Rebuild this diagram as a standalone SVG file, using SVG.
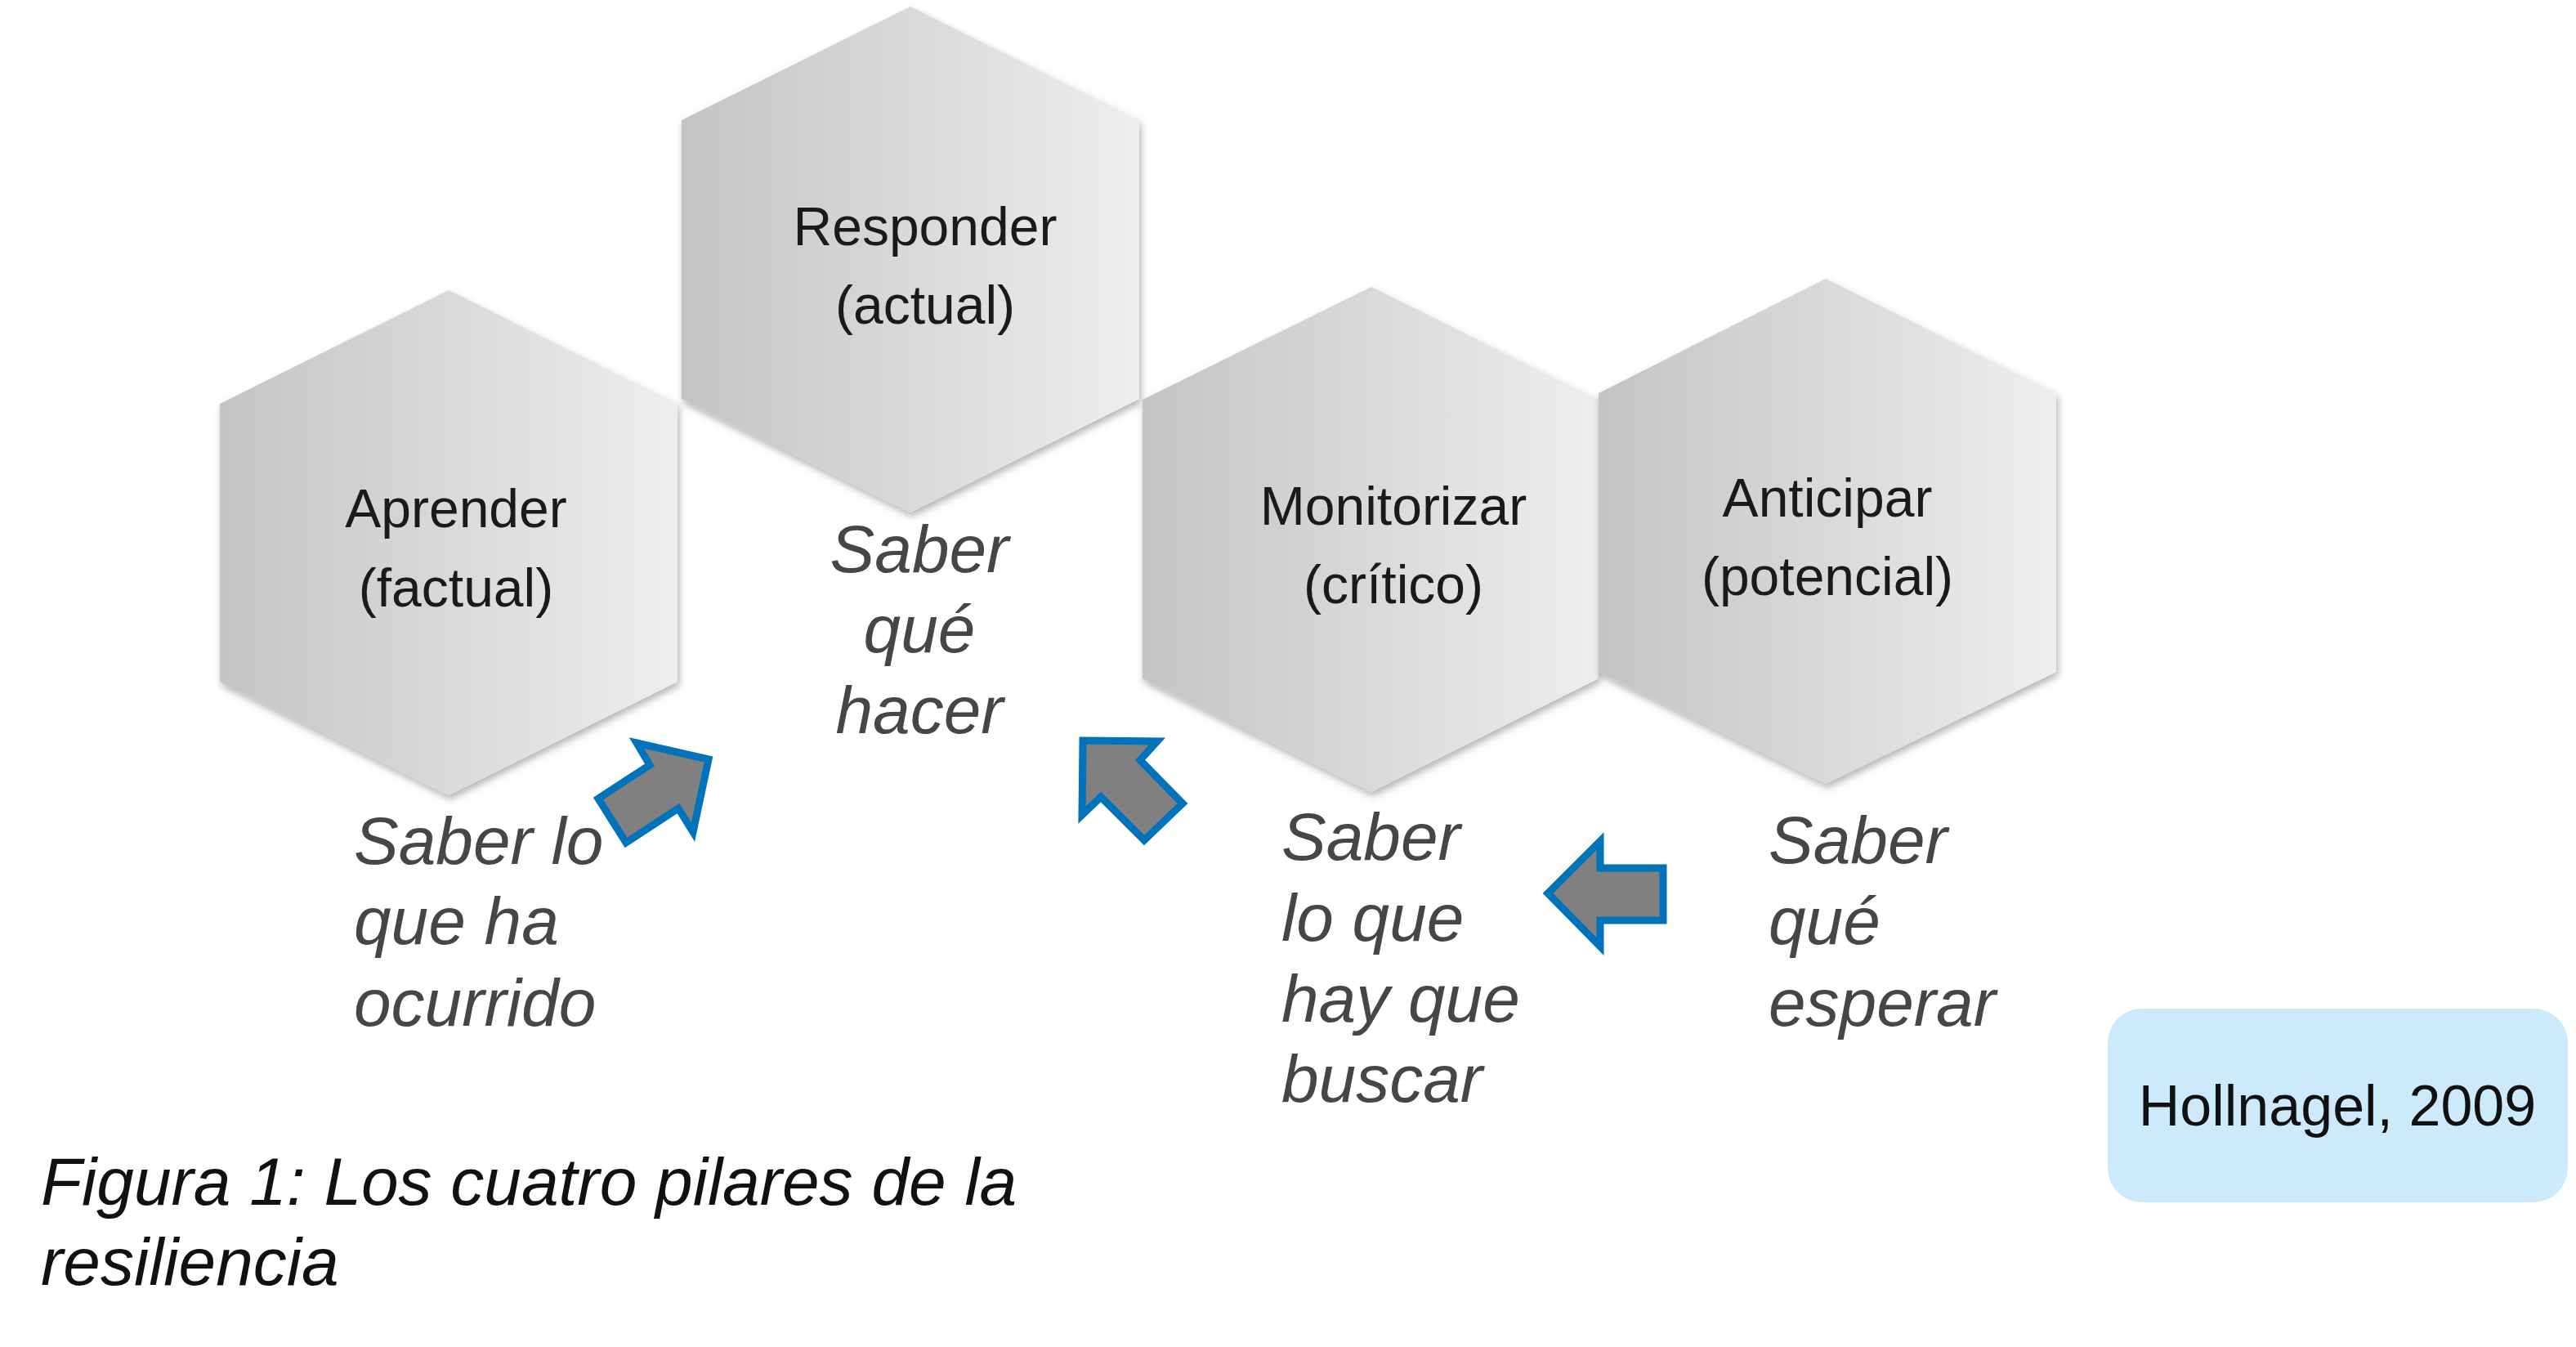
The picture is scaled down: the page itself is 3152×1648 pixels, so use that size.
<svg xmlns="http://www.w3.org/2000/svg" width="3152" height="1648" viewBox="0 0 3152 1648">
  <defs>
    <linearGradient id="hexGrad" x1="0" y1="0" x2="1" y2="0">
      <stop offset="0" stop-color="#c4c4c4"/>
      <stop offset="1" stop-color="#eeeeee"/>
    </linearGradient>
    <filter id="hexShadow" x="-10%" y="-10%" width="120%" height="120%">
      <feDropShadow dx="2" dy="5" stdDeviation="5" flood-color="#000000" flood-opacity="0.3"/>
    </filter>
  </defs>
  <style>
    .hex { fill: url(#hexGrad); filter: url(#hexShadow); }
    .node-text { font-family: "Liberation Sans", Arial, sans-serif; font-size: 66px; fill: #1a1a1a; text-anchor: middle; }
    .label { font-family: "Liberation Sans", Arial, sans-serif; font-style: italic; font-size: 82px; fill: #464646; }
    .label-c { text-anchor: middle; }
    .arrow { fill: #808080; stroke: #0073bb; stroke-width: 9; stroke-linejoin: miter; }
    .caption { font-family: "Liberation Sans", Arial, sans-serif; font-style: italic; font-size: 82px; fill: #111111; }
    .ref-box { fill: #cdeafc; }
    .ref-text { font-family: "Liberation Sans", Arial, sans-serif; font-size: 70px; fill: #111111; text-anchor: middle; }
  </style>
  <rect x="0" y="0" width="3152" height="1648" fill="#ffffff"/>

  <g id="node-aprender">
    <polygon class="hex" points="549,355 829,494 829,834 549,973 269,834 269,494"/>
    <text class="node-text" x="558" y="645">Aprender</text>
    <text class="node-text" x="558" y="742">(factual)</text>
  </g>
  <g id="node-responder">
    <polygon class="hex" points="1114,8 1394,147 1394,488 1114,627 834,488 834,147"/>
    <text class="node-text" x="1132" y="300">Responder</text>
    <text class="node-text" x="1132" y="396">(actual)</text>
  </g>
  <g id="node-monitorizar">
    <polygon class="hex" points="1678,351 1956,489 1956,830 1678,969 1398,830 1398,489"/>
    <text class="node-text" x="1705" y="642">Monitorizar</text>
    <text class="node-text" x="1705" y="738">(crítico)</text>
  </g>
  <g id="node-anticipar">
    <polygon class="hex" points="2234,341 2516,481 2516,822 2234,959 1956,822 1956,481"/>
    <text class="node-text" x="2236" y="632">Anticipar</text>
    <text class="node-text" x="2236" y="728">(potencial)</text>
  </g>

  <g id="label-responder">
    <text class="label label-c" x="1125" y="700">Saber</text>
    <text class="label label-c" x="1125" y="798">qué</text>
    <text class="label label-c" x="1125" y="897">hacer</text>
  </g>
  <g id="label-aprender">
    <text class="label" x="433" y="1057">Saber lo</text>
    <text class="label" x="433" y="1155">que ha</text>
    <text class="label" x="433" y="1255">ocurrido</text>
  </g>
  <g id="label-monitorizar">
    <text class="label" x="1568" y="1052">Saber</text>
    <text class="label" x="1568" y="1151">lo que</text>
    <text class="label" x="1568" y="1250">hay que</text>
    <text class="label" x="1568" y="1348">buscar</text>
  </g>
  <g id="label-anticipar">
    <text class="label" x="2164" y="1056">Saber</text>
    <text class="label" x="2164" y="1155">qué</text>
    <text class="label" x="2164" y="1255">esperar</text>
  </g>

  <g id="connectors">
    <polygon class="arrow" points="779,909 867,929 848,1018 830,989 766,1031 732,977 795,936"/>
    <polygon class="arrow" points="1325,906 1416,907 1395,930 1447,983 1400,1028 1347,975 1324,997"/>
    <polygon class="arrow" points="1894,1093 1958,1029 1958,1062 2035,1062 2035,1126 1958,1126 1958,1158"/>
  </g>

  <g id="reference">
    <rect class="ref-box" x="2579" y="1234" width="563" height="237" rx="42" ry="42"/>
    <text class="ref-text" x="2860" y="1377">Hollnagel, 2009</text>
  </g>

  <g id="caption">
    <text class="caption" x="50" y="1474">Figura 1: Los cuatro pilares de la</text>
    <text class="caption" x="50" y="1572">resiliencia</text>
  </g>
</svg>
